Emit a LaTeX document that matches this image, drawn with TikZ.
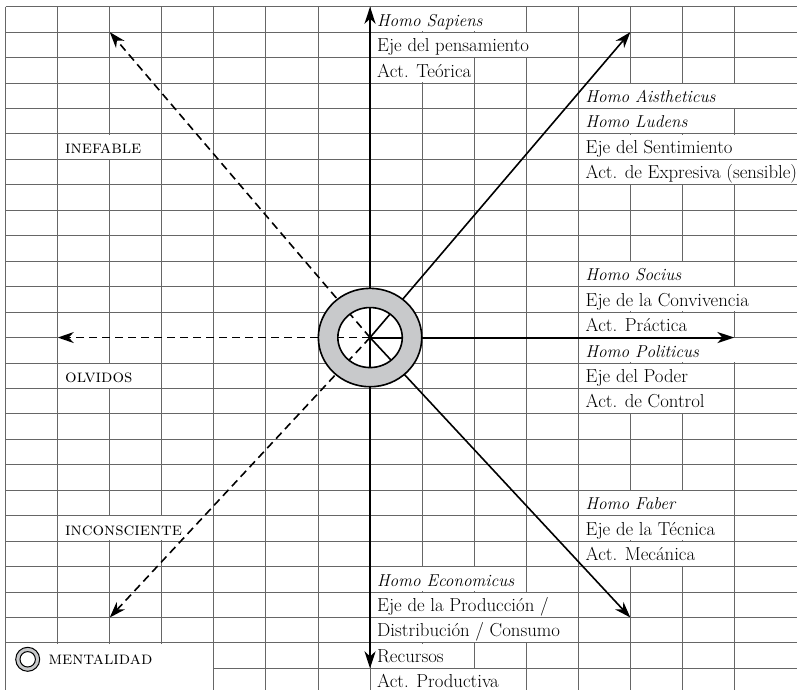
\documentclass[tikz,border=0pt]{standalone}
\usetikzlibrary{arrows.meta}
\definecolor{gridc}{gray}{0.4}
\definecolor{ringc}{RGB}{200,201,203}
\newcommand\CX[1]{(5.7+52.05*(#1))}
\newcommand\RY[1]{(6.7+25.45*(#1))}
\newcommand\coverc[3]{\fill[white] ({\CX{#1}+0.7},{\RY{#3}+0.7}) rectangle ({\CX{#2}-0.7},{\RY{#3+1}-0.7});}
\begin{document}
\begin{tikzpicture}[x=1pt,y=-1pt,
  gridline/.style={draw=gridc, line width=1pt},
  lbl/.style={anchor=base west, inner sep=0pt, font=\fontsize{18.8}{22}\selectfont},
  ilbl/.style={anchor=base west, inner sep=0pt, font=\fontsize{17.2}{22}\selectfont\itshape},
  sclbl/.style={anchor=base west, inner sep=0pt, font=\fontsize{18.2}{22}\selectfont\scshape},
  solidarrow/.style={line width=1.6pt, -{Stealth[length=16pt,width=11pt,inset=5pt]}},
  dasharrow/.style={solidarrow, dash pattern=on 8pt off 5pt},
  axisarrow/.style={line width=2.1pt, -{Stealth[length=17pt,width=11pt,inset=5pt]}},
  ringline/.style={draw=black, line width=1.6pt}]
\useasboundingbox (0,0) rectangle (797,690);
\begin{scope}
\clip (0,0) rectangle (797,690);
% horizontal grid lines
\foreach \j in {0,...,12,14,15,...,25}
  \draw[gridline] ({\CX{0}},{\RY{\j}}) -- (800,{\RY{\j}});
\draw[gridline] ({\CX{0}},{\RY{13}}) -- ({\CX{1}},{\RY{13}});
\draw[gridline] ({\CX{14}},{\RY{13}}) -- (800,{\RY{13}});
\draw[gridline] ({\CX{4}},{\RY{26}}) -- (800,{\RY{26}});
% vertical grid lines
\foreach \k in {0,...,14}
  \draw[gridline] ({\CX{\k}},{\RY{0}}) -- ({\CX{\k}},700);
% merged cells
\coverc{7}{10}{0}
\coverc{7}{11}{1}
\coverc{7}{9}{2}
\coverc{11}{16}{3}
\coverc{11}{14}{4}
\coverc{11}{16}{5}
\coverc{11}{16}{6}
\coverc{11}{14}{10}
\coverc{11}{16}{11}
\coverc{11}{14}{12}
\coverc{11}{16}{13}
\coverc{11}{14}{14}
\coverc{11}{14}{15}
\coverc{11}{14}{19}
\coverc{11}{14}{20}
\coverc{11}{14}{21}
\coverc{7}{10}{22}
\coverc{7}{11}{23}
\coverc{7}{11}{24}
\coverc{7}{9}{25}
\coverc{7}{10}{26}
\coverc{1}{3}{5}
\coverc{1}{3}{14}
\coverc{1}{4}{20}
\fill[white] ({\CX{0}+0.7},{\RY{25}+0.7}) rectangle ({\CX{4}-0.7},700);
\end{scope}

% texts
\node[ilbl] (hsap) at (377,26.15) {Homo Sapiens};
\node[lbl]  (epen) at (377,51.6) {Eje del pensamiento};
\node[lbl]  (ateo) at (377,77.05) {Act. Teórica};
\node[ilbl] (hais) at (585.5,102.5) {Homo Aistheticus};
\node[ilbl] (hlud) at (585.5,127.95) {Homo Ludens};
\node[lbl]  (esen) at (585.5,153.4) {Eje del Sentimiento};
\node[lbl]  (aexp) at (585.5,178.85) {Act. de Expresiva (sensible)};
\node[ilbl] (hsoc) at (585.5,280.65) {Homo Socius};
\node[lbl]  (econ) at (585.5,306.1) {Eje de la Convivencia};
\node[lbl]  (apra) at (585.5,331.55) {Act. Práctica};
\node[ilbl] (hpol) at (585.5,357.0) {Homo Politicus};
\node[lbl]  (epod) at (585.5,382.45) {Eje del Poder};
\node[lbl]  (actl) at (585.5,407.9) {Act. de Control};
\node[ilbl] (hfab) at (585.5,509.7) {Homo Faber};
\node[lbl]  (etec) at (585.5,535.15) {Eje de la Técnica};
\node[lbl]  (amec) at (585.5,560.6) {Act. Mecánica};
\node[ilbl] (heco) at (377,586.05) {Homo Economicus};
\node[lbl]  (epro) at (377,611.5) {Eje de la Producción /};
\node[lbl]  (edis) at (377,636.95) {Distribución / Consumo};
\node[lbl]  (recu) at (377,662.4) {Recursos};
\node[lbl]  (apro) at (377,687.85) {Act. Productiva};
\node[sclbl] (inef) at (65,153.4) {inefable};
\node[sclbl] (olvi) at (65,382.45) {olvidos};
\node[sclbl] (inco) at (65,535.15) {inconsciente};
\node[sclbl] (ment) at (48.3,664) {mentalidad};

% axes
\coordinate (O) at (370.05,337.55);
\coordinate (N) at (370.05,6.7);
\coordinate (S) at (370.05,668.4);
\coordinate (E) at (734.4,337.55);
\coordinate (W) at (57.75,337.55);
\coordinate (NE) at (630.3,32.15);
\coordinate (NW) at (109.8,32.15);
\coordinate (SE) at (630.3,617.5);
\coordinate (SW) at (109.8,617.5);
\fill[white] (O) ellipse [x radius=32.2pt, y radius=30pt];
\draw[axisarrow] (O) -- (N);
\draw[axisarrow] (O) -- (S);
\draw[axisarrow] (O) -- (E);
\draw[dasharrow] (O) -- (W);
\draw[solidarrow] (O) -- (NE);
\draw[solidarrow] (O) -- (SE);
\draw[dasharrow] (O) -- (NW);
\draw[dasharrow] (O) -- (SW);
% ring
\fill[ringc, even odd rule] (O) ellipse [x radius=51.7pt, y radius=49.2pt]
  (O) ellipse [x radius=32.2pt, y radius=30pt];
\draw[ringline] (O) ellipse [x radius=51.7pt, y radius=49.2pt];
\draw[ringline] (O) ellipse [x radius=32.2pt, y radius=30pt];
% legend icon
\coordinate (L) at (27.7,659.3);
\fill[ringc, even odd rule] (L) circle [radius=12pt] (L) circle [radius=7.7pt];
\draw[line width=1pt] (L) circle [radius=12pt];
\draw[line width=1pt] (L) circle [radius=7.7pt];
\end{tikzpicture}
\end{document}
